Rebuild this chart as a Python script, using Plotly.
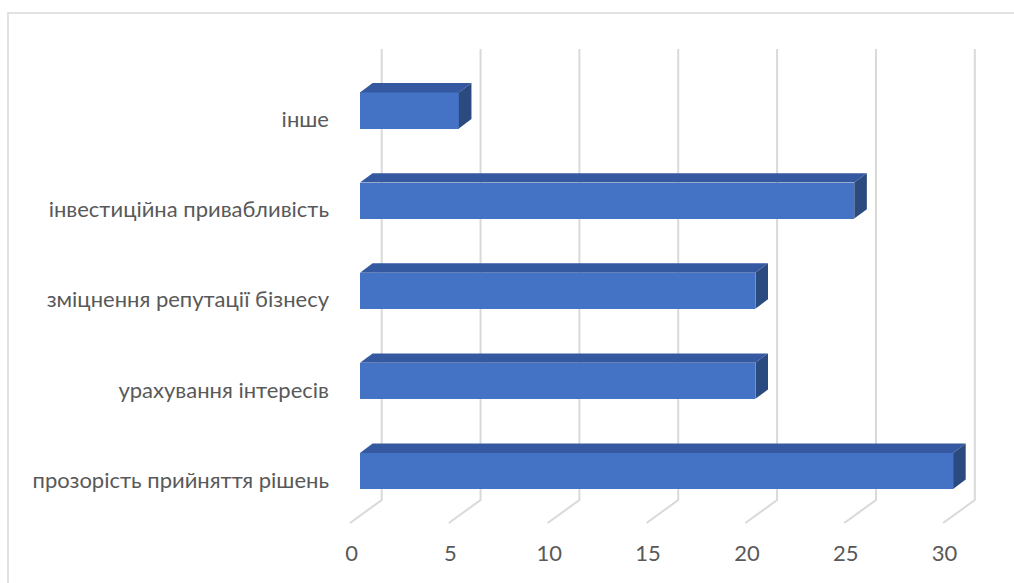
import plotly.graph_objects as go

# ---- data ----
categories = ["прозорість прийняття рішень", "урахування інтересів",
              "зміцнення репутації бізнесу", "інвестиційна привабливість", "інше"]
values = [30, 20, 20, 25, 5]
x_ticks = [0, 5, 10, 15, 20, 25, 30]

# ---- layout geometry (pixels / style) ----
W, H = 1014, 583
ML, MR, MT, MB = 340, 14, 20, 43
PX_X = 19.77          # pixels per value unit
X0_PX = 360           # pixel of value 0 on the bar front plane
PX_Y = 90.1           # pixels per category
TOP_CAT_PX = 110.5    # pixel of the top category centre

xr = [(ML - X0_PX) / PX_X, (W - MR - X0_PX) / PX_X]
yr = [(len(categories) - 1) - (H - MB - TOP_CAT_PX) / PX_Y,
      (len(categories) - 1) + (TOP_CAT_PX - MT) / PX_Y]

def y_of_px(py):
    return (len(categories) - 1) - (py - TOP_CAT_PX) / PX_Y

bar_h = 0.40
dx_bar = 12.6 / PX_X
dy_bar = 9.4 / PX_Y
dx_grid = 21.7 / PX_X
dx_floor = -10.0 / PX_X
y_grid_top = y_of_px(49)
y_grid_bot = y_of_px(500)
y_floor = y_of_px(523)

FRONT = "#4472C4"
TOP = "#3559A0"
SIDE = "#2B4A80"
GRID = "#D9D9D9"
TEXT = "#595959"
FS = 22

fig = go.Figure()

# back-wall gridlines + floor diagonals (below the bars)
for v in x_ticks:
    fig.add_shape(type="path", xref="x", yref="y", layer="below",
                  path=(f"M {v + dx_grid},{y_grid_top} L {v + dx_grid},{y_grid_bot} "
                        f"L {v + dx_floor},{y_floor}"),
                  line=dict(color=GRID, width=2))

ypos = list(range(len(categories)))

# front faces
fig.add_trace(go.Bar(y=ypos, x=values, orientation="h", width=bar_h, base=0,
                     marker=dict(color=FRONT, line=dict(width=0)), showlegend=False))

# top and side faces
for yi, v in zip(ypos, values):
    yt = yi + bar_h / 2
    yb = yi - bar_h / 2
    fig.add_trace(go.Scatter(
        x=[0, v, v + dx_bar, dx_bar, 0],
        y=[yt, yt, yt + dy_bar, yt + dy_bar, yt],
        fill="toself", fillcolor=TOP, mode="lines", line=dict(width=0, color=TOP),
        hoverinfo="skip", showlegend=False))
    fig.add_trace(go.Scatter(
        x=[v, v + dx_bar, v + dx_bar, v, v],
        y=[yb, yb + dy_bar, yt + dy_bar, yt, yb],
        fill="toself", fillcolor=SIDE, mode="lines", line=dict(width=0, color=SIDE),
        hoverinfo="skip", showlegend=False))

label_shift_x = -8.5 / PX_X
label_shift_y = -9.0 / PX_Y

fig.update_layout(
    width=W, height=H,
    margin=dict(l=ML, r=MR, t=MT, b=MB, pad=0),
    paper_bgcolor="white", plot_bgcolor="white",
    bargap=0,
    font=dict(family="Lato", color=TEXT, size=FS),
    xaxis=dict(range=xr, showgrid=False, zeroline=False, showline=False,
               tickvals=[v + label_shift_x for v in x_ticks],
               ticktext=[str(v) for v in x_ticks], ticks="",
               tickfont=dict(size=FS, color=TEXT), ticklabelstandoff=-2,
               fixedrange=True),
    yaxis=dict(range=yr, showgrid=False, zeroline=False, showline=False,
               tickvals=[y + label_shift_y for y in ypos], ticktext=categories,
               ticks="", tickfont=dict(size=FS, color=TEXT), ticklabelstandoff=10,
               fixedrange=True),
)

# chart border
pw = W - ML - MR
ph = H - MT - MB
fig.add_shape(type="rect", xref="paper", yref="paper",
              x0=(8 - ML) / pw, x1=(W + 10 - ML) / pw,
              y0=(H - MB - (H + 10)) / ph, y1=(H - MB - 13) / ph,
              line=dict(color=GRID, width=1.5), layer="below")

fig.write_html("out.html")
